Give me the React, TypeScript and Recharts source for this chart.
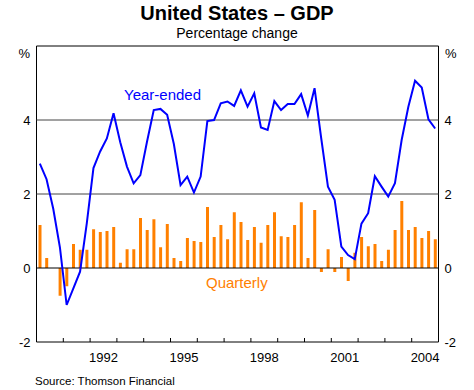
import React from 'react';
import {
  ComposedChart,
  Bar,
  Line,
  XAxis,
  YAxis,
  ReferenceLine,
  ReferenceArea,
} from 'recharts';

const years = [1990, 1991, 1992, 1993, 1994, 1995, 1996, 1997, 1998, 1999, 2000, 2001, 2002, 2003, 2004];
const quarterNames = ['Q1', 'Q2', 'Q3', 'Q4'];

// Quarterly % change, one row per year
const quarterly = [
  [1.16, 0.27, 0.0, -0.75],
  [-0.49, 0.65, 0.49, 0.49],
  [1.05, 0.97, 1.0, 1.11],
  [0.14, 0.51, 0.51, 1.35],
  [1.03, 1.32, 0.56, 1.19],
  [0.27, 0.19, 0.81, 0.73],
  [0.7, 1.65, 0.84, 1.16],
  [0.78, 1.51, 1.24, 0.76],
  [1.11, 0.68, 1.16, 1.51],
  [0.86, 0.84, 1.16, 1.78],
  [0.27, 1.57, -0.11, 0.51],
  [-0.11, 0.3, -0.35, 0.41],
  [0.84, 0.59, 0.65, 0.19],
  [0.49, 1.03, 1.81, 1.03],
  [1.11, 0.81, 1.0, 0.78],
];

// Year-ended % change, one row per year
const yearEnded = [
  [2.82, 2.4, 1.6, 0.55],
  [-1.0, -0.55, -0.1, 1.2],
  [2.7, 3.15, 3.5, 4.18],
  [3.4, 2.74, 2.29, 2.51],
  [3.42, 4.27, 4.3, 4.14],
  [3.35, 2.24, 2.47, 2.04],
  [2.47, 3.97, 4.0, 4.45],
  [4.5, 4.38, 4.8, 4.36],
  [4.72, 3.8, 3.73, 4.51],
  [4.27, 4.43, 4.43, 4.7],
  [4.12, 4.86, 3.5, 2.2],
  [1.84, 0.58, 0.35, 0.24],
  [1.2, 1.48, 2.48, 2.2],
  [1.93, 2.29, 3.46, 4.36],
  [5.06, 4.88, 4.02, 3.77],
];

const yearBoundaries = [1990, 1991, 1992, 1993, 1994, 1995, 1996, 1997, 1998, 1999, 2000, 2001, 2002, 2003, 2004, 2005];
const labelYears = [1992, 1995, 1998, 2001, 2004];
const yTicks = [-2, 0, 2, 4, 6];

const data = years.flatMap((yr, yi) =>
  quarterNames.map((qn, qi) => ({
    label: `${yr}${qn}`,
    t: yr + (qi + 0.5) / 4,
    quarterly: quarterly[yi][qi],
    yearEnded: yearEnded[yi][qi],
  }))
);

const FONT = "Arial, 'Liberation Sans', sans-serif";
const BLUE = '#0000ff';
const ORANGE = '#ff8000';

const XTick = (props: any) => {
  const { x, y, payload } = props;
  const v: number = payload.value;
  if (Number.isInteger(v)) {
    if (v === yearBoundaries[0] || v === yearBoundaries[yearBoundaries.length - 1]) return <g />;
    return <line x1={x} x2={x} y1={y} y2={y - 4} stroke="#000" strokeWidth={1} />;
  }
  return (
    <text x={x} y={y + 20} textAnchor="middle" fontSize={13} fill="#000" fontFamily={FONT}>
      {Math.floor(v)}
    </text>
  );
};

const fmtY = (v: number) => (v === 6 ? '' : String(v));

export default function App() {
  return (
    <div style={{ position: 'absolute', left: 0, top: 0, width: 474, height: 390, background: '#fff' }}>
      <ComposedChart
        width={474}
        height={390}
        data={data}
        margin={{ top: 46, right: 0, bottom: 0, left: 0 }}
        style={{ fontFamily: FONT }}
      >
        <XAxis
          dataKey="t"
          type="number"
          domain={[1990, 2005]}
          ticks={[...yearBoundaries, ...labelYears.map((y) => y + 0.5)]}
          interval={0}
          tick={<XTick />}
          tickLine={false}
          axisLine={false}
          tickSize={0}
          tickMargin={0}
          height={48}
          allowDataOverflow
        />
        <YAxis
          yAxisId="left"
          domain={[-2, 6]}
          ticks={yTicks}
          interval={0}
          tickFormatter={fmtY}
          axisLine={false}
          tickLine={false}
          tickSize={0}
          tickMargin={6}
          width={36.5}
          tick={{ fontSize: 13, fill: '#000', fontFamily: FONT }}
          allowDataOverflow
        />
        <YAxis
          yAxisId="right"
          orientation="right"
          domain={[-2, 6]}
          ticks={yTicks}
          interval={0}
          tickFormatter={fmtY}
          axisLine={false}
          tickLine={false}
          tickSize={0}
          tickMargin={6}
          width={35.5}
          tick={{ fontSize: 13, fill: '#000', fontFamily: FONT }}
          allowDataOverflow
        />
        <ReferenceLine yAxisId="left" y={2} stroke="#444" strokeWidth={1} />
        <ReferenceLine yAxisId="left" y={4} stroke="#444" strokeWidth={1} />
        <Bar yAxisId="left" dataKey="quarterly" fill={ORANGE} barSize={3} isAnimationActive={false} />
        <ReferenceLine yAxisId="left" y={0} stroke="#000" strokeWidth={1} />
        <Line
          yAxisId="right"
          dataKey="yearEnded"
          type="linear"
          stroke={BLUE}
          strokeWidth={2}
          dot={false}
          isAnimationActive={false}
        />
        <ReferenceArea
          yAxisId="left"
          x1={1990}
          x2={2005}
          y1={-2}
          y2={6}
          fill="none"
          fillOpacity={0}
          stroke="#000"
          strokeWidth={1}
          ifOverflow="visible"
        />
      </ComposedChart>
      <svg
        width={474}
        height={390}
        style={{ position: 'absolute', left: 0, top: 0, pointerEvents: 'none' }}
        fontFamily={FONT}
      >
        <text x={237} y={19.5} textAnchor="middle" fontSize={20} fontWeight="bold" fill="#000">
          United States – GDP
        </text>
        <text x={237} y={38} textAnchor="middle" fontSize={14} fill="#000">
          Percentage change
        </text>
        <text x={30} y={58} textAnchor="end" fontSize={13} fill="#000">%</text>
        <text x={445} y={58} textAnchor="start" fontSize={13} fill="#000">%</text>
        <text x={124} y={100} fontSize={15} fill={BLUE}>Year-ended</text>
        <text x={206} y={288} fontSize={15} fill={ORANGE}>Quarterly</text>
        <text x={35} y={385} fontSize={11.5} fill="#000">Source: Thomson Financial</text>
      </svg>
    </div>
  );
}
